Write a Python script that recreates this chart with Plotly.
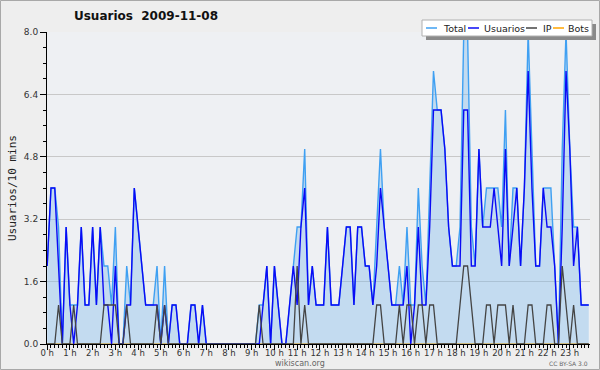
import plotly.graph_objects as go

# ---- data (10-minute bins, 2009-11-08) ----
hour_labels = [f"{h} h" for h in range(24)]

usuarios = [2,4,4,2,0,3,1,0,1,3, 1,1,3,1,3,1,1,0,2,0,
            0,1,1,4,3,2,1,1,1,1, 0,1,0,1,1,0,0,0,1,1,
            0,1,0,0,0,0,0,0,0,0, 0,0,0,0,0,0,0,1,2,0,
            2,1,0,0,1,2,1,3,4,1, 2,1,1,1,3,1,1,1,2,3,
            3,1,3,3,2,2,1,2,4,3, 2,1,1,1,1,2,0,1,3,1,
            1,3,6,6,6,5,3,2,2,2, 6,6,2,2,5,3,3,3,4,3,
            2,5,2,3,4,2,4,7,4,2, 2,4,3,3,2,0,3,7,5,2,
            3,1,1,1]

ip = [0,0,0,1,0,0,0,1,0,0, 0,0,0,0,0,1,1,1,1,0,
      0,1,0,0,0,0,0,0,0,1, 0,1,0,0,0,0,0,0,0,0,
      0,0,0,0,0,0,0,0,0,0, 0,0,0,0,0,0,1,0,0,0,
      0,0,0,0,0,0,2,0,1,0, 0,0,0,0,0,0,0,0,0,0,
      0,0,0,0,0,0,0,1,1,0, 0,0,0,1,0,1,1,0,1,1,
      0,1,1,0,0,0,0,0,0,1, 2,2,1,0,0,0,1,1,0,1,
      1,1,0,1,0,0,0,1,1,0, 0,0,1,1,0,0,2,1,0,1,
      0,0,0,0]

total = [2,4,4,3,0,3,1,1,1,3, 1,1,3,1,3,2,2,1,3,0,
         0,2,1,4,3,2,1,1,1,2, 0,2,0,1,1,0,0,0,1,1,
         0,1,0,0,0,0,0,0,0,0, 0,0,0,0,0,0,1,1,2,0,
         2,1,0,0,1,2,3,3,5,1, 2,1,1,1,3,1,1,1,2,3,
         3,1,3,3,2,2,1,3,5,3, 2,1,1,2,1,3,1,1,4,2,
         1,4,7,6,6,5,3,2,2,3, 8,8,3,2,5,3,4,4,4,4,
         3,6,2,4,4,2,4,8,5,2, 2,4,4,4,2,0,5,8,5,3,
         3,1,1,1]

bots = [0] * 144

slots = list(range(144))

# ---- geometry helpers (pixels -> paper coords) ----
W_FIG, H_FIG = 600, 370
L, R, T, B = 47, 10, 32, 26
PW = W_FIG - L - R
PH = H_FIG - T - B


def px(x):
    return (x - L) / PW


def py(y):
    return (H_FIG - B - y) / PH


C_TOTAL = "#3fa0f2"
C_USU = "#0a0af5"
C_IP = "#444444"
C_BOTS = "#ffa500"

fig = go.Figure()
fig.add_trace(go.Scatter(x=slots, y=bots, mode="lines", name="Bots",
                         line=dict(color=C_BOTS, width=1.3), showlegend=False))
fig.add_trace(go.Scatter(x=slots, y=total, mode="lines", name="Total",
                         line=dict(color=C_TOTAL, width=1.4),
                         fill="tozeroy", fillcolor="rgba(120,182,236,0.36)",
                         showlegend=False))
fig.add_trace(go.Scatter(x=slots, y=usuarios, mode="lines", name="Usuarios",
                         line=dict(color=C_USU, width=1.4), showlegend=False))
fig.add_trace(go.Scatter(x=slots, y=ip, mode="lines", name="IP",
                         line=dict(color=C_IP, width=1.3), showlegend=False))

fig.update_layout(
    width=W_FIG, height=H_FIG, autosize=False,
    margin=dict(l=L, r=R, t=T, b=B, pad=0),
    paper_bgcolor="#eeeeee", plot_bgcolor="#eef0f3",
    font=dict(family="DejaVu Sans", size=9, color="#333333"),
    showlegend=False,
    title=dict(text="<b>Usuarios\u00a0\u00a02009-11-08</b>",
               x=146 / W_FIG, xanchor="center",
               y=1 - 16 / H_FIG, yanchor="middle",
               font=dict(family="DejaVu Sans", size=12, color="#111111")),
)

fig.update_xaxes(
    range=[-0.05, 143.33], showgrid=False, zeroline=False,
    showline=True, linecolor="black", linewidth=1,
    tickmode="array", tickvals=[6 * h for h in range(24)], ticktext=hour_labels,
    ticks="outside", ticklen=5, tickcolor="black", tickwidth=1,
    ticklabelstandoff=-4,
    tickfont=dict(size=8.5, color="#333333"),
    minor=dict(tickmode="linear", tick0=0, dtick=1, ticks="outside",
               ticklen=3, tickcolor="black", tickwidth=1, showgrid=False),
    fixedrange=True, automargin=False,
)
fig.update_yaxes(
    range=[0, 8], tick0=0, dtick=1.6, tickformat=".1f",
    showgrid=True, gridcolor="#c8c8c8", gridwidth=1, zeroline=False,
    showline=True, linecolor="black", linewidth=1,
    ticks="outside", ticklen=6, tickcolor="black", tickwidth=1,
    tickfont=dict(size=9, color="#333333"),
    minor=dict(tick0=0, dtick=0.4, ticks="outside", ticklen=3,
               tickcolor="black", tickwidth=1, showgrid=False),
    fixedrange=True, automargin=False,
)

shapes = []
annotations = []

# outer frame
shapes.append(dict(type="rect", xref="paper", yref="paper",
                   x0=px(0.5), x1=px(599.5), y0=py(0.5), y1=py(369.5),
                   line=dict(color="#a8a8a8", width=1), fillcolor="rgba(0,0,0,0)",
                   layer="above"))

# custom legend (box + shadow)
lx0, lx1, ly0, ly1 = 422, 592, 20, 36
shapes.append(dict(type="rect", xref="paper", yref="paper",
                   x0=px(lx0 + 4), x1=px(lx1 + 4), y0=py(ly0 + 4), y1=py(ly1 + 4),
                   line=dict(width=0), fillcolor="#8a8a8a", layer="above"))
shapes.append(dict(type="rect", xref="paper", yref="paper",
                   x0=px(lx0), x1=px(lx1), y0=py(ly0), y1=py(ly1),
                   line=dict(color="#b0b0b0", width=1), fillcolor="white",
                   layer="above"))
legend_items = [("Total", C_TOTAL, 426, 441),
                ("Usuarios", C_USU, 468, 482),
                ("IP", C_IP, 526, 541),
                ("Bots", C_BOTS, 553, 566)]
ly = 28
for name, col, sx, tx in legend_items:
    shapes.append(dict(type="line", xref="paper", yref="paper",
                       x0=px(sx), x1=px(sx + 11), y0=py(ly), y1=py(ly),
                       line=dict(color=col, width=1.5), layer="above"))
    annotations.append(dict(text=name, xref="paper", yref="paper",
                            x=px(tx), y=py(ly), xanchor="left", yanchor="middle",
                            showarrow=False,
                            font=dict(family="DejaVu Sans", size=9.5, color="#222222")))

# y axis title
annotations.append(dict(text="Usuarios/10 mins", xref="paper", yref="paper",
                        x=px(12), y=py(188), xanchor="center", yanchor="middle",
                        textangle=-90, showarrow=False,
                        font=dict(family="DejaVu Sans Mono", size=11, color="#222222")))
# footer texts
annotations.append(dict(text="wikiscan.org", xref="paper", yref="paper",
                        x=px(300), y=py(363), xanchor="center", yanchor="middle",
                        showarrow=False,
                        font=dict(family="DejaVu Sans", size=8, color="#666666")))
annotations.append(dict(text="CC BY-SA 3.0", xref="paper", yref="paper",
                        x=px(568), y=py(363), xanchor="center", yanchor="middle",
                        showarrow=False,
                        font=dict(family="DejaVu Sans", size=6, color="#666666")))

fig.update_layout(shapes=shapes, annotations=annotations)

fig.write_html("out.html", config={"displayModeBar": False},
               post_script="document.body.style.margin='0px';document.body.style.overflow='hidden';")
